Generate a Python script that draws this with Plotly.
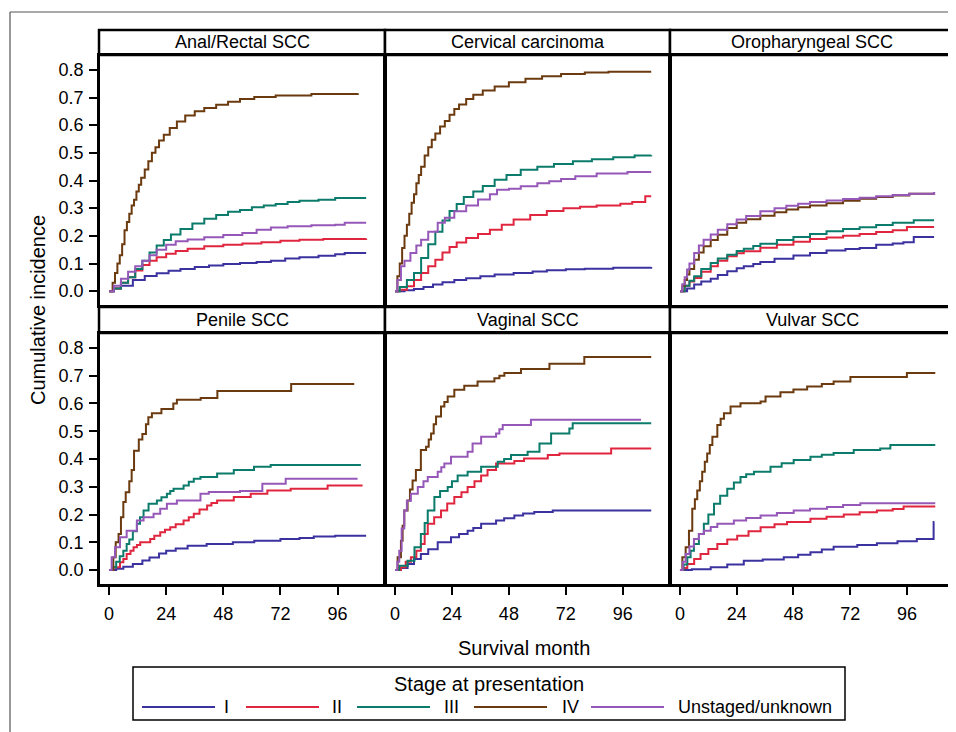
import plotly.graph_objects as go

# page body has an 8px margin: the figure is placed at (8, 8) in the window
OFF = 8
W, H = 956 - OFF, 732 - OFF

# ---------------- data ----------------
panels = ["Anal/Rectal SCC", "Cervical carcinoma", "Oropharyngeal SCC",
          "Penile SCC", "Vaginal SCC", "Vulvar SCC"]
stages = ["I", "II", "III", "IV", "Unstaged/unknown"]
stage_colors = ["#3B32A0", "#E0263F", "#0B7B6B", "#6B3A0F", "#9658B8"]
x_ticks = [0, 24, 48, 72, 96]
y_ticks = [0.0, 0.1, 0.2, 0.3, 0.4, 0.5, 0.6, 0.7, 0.8]

# Anal/Rectal SCC
anal_I_m = [0, 2, 5, 10, 15, 20, 25, 30, 36, 42, 48, 55, 62, 68, 74, 80, 88, 95, 99, 108]
anal_I_v = [0, 0.01, 0.02, 0.04, 0.055, 0.065, 0.074, 0.08, 0.087, 0.093, 0.098, 0.102, 0.105, 0.11, 0.118, 0.123, 0.128, 0.133, 0.138, 0.138]
anal_II_m = [0, 2, 5, 8, 11, 14, 17, 20, 24, 28, 33, 40, 48, 56, 64, 72, 80, 90, 108]
anal_II_v = [0, 0.01, 0.03, 0.05, 0.075, 0.095, 0.11, 0.123, 0.135, 0.145, 0.153, 0.162, 0.168, 0.172, 0.177, 0.182, 0.186, 0.189, 0.19]
anal_III_m = [0, 2, 5, 8, 11, 14, 17, 20, 23, 26, 30, 35, 40, 45, 50, 55, 60, 65, 70, 75, 80, 88, 95, 108]
anal_III_v = [0, 0.01, 0.03, 0.05, 0.08, 0.11, 0.14, 0.165, 0.185, 0.205, 0.225, 0.245, 0.262, 0.275, 0.287, 0.293, 0.303, 0.31, 0.315, 0.322, 0.327, 0.33, 0.337, 0.337]
anal_IV_m = [0, 1.5, 2.5, 3.5, 4.5, 5.5, 6.5, 7.5, 8.5, 9.5, 10.5, 11.5, 12.5, 13.5, 15, 16.5, 18, 19.5, 21, 23, 25.5, 28.5, 32, 36, 40, 45, 50, 55, 61, 70, 85, 104.5]
anal_IV_v = [0, 0.03, 0.066, 0.1, 0.13, 0.17, 0.22, 0.25, 0.28, 0.31, 0.33, 0.36, 0.385, 0.41, 0.44, 0.47, 0.5, 0.52, 0.545, 0.565, 0.59, 0.613, 0.635, 0.65, 0.662, 0.674, 0.685, 0.695, 0.702, 0.707, 0.713, 0.715]
anal_U_m = [0, 2, 5, 8, 11, 14, 17, 20, 24, 28, 33, 40, 48, 56, 62, 68, 75, 85, 95, 99, 108]
anal_U_v = [0, 0.02, 0.045, 0.07, 0.09, 0.11, 0.13, 0.15, 0.168, 0.18, 0.187, 0.195, 0.203, 0.21, 0.222, 0.23, 0.235, 0.238, 0.24, 0.247, 0.247]

# Cervical carcinoma
cerv_I_m = [0, 4, 8, 12, 16, 20, 25, 30, 36, 42, 50, 58, 64, 72, 80, 92, 108]
cerv_I_v = [0, 0.003, 0.008, 0.015, 0.024, 0.032, 0.04, 0.047, 0.054, 0.06, 0.066, 0.071, 0.076, 0.079, 0.081, 0.085, 0.087]
cerv_II_m = [0, 2, 5, 8, 11, 14, 17, 20, 23, 26, 30, 35, 40, 45, 50, 57, 64, 71, 78, 85, 95, 100, 105.5, 108]
cerv_II_v = [0, 0.005, 0.018, 0.04, 0.066, 0.09, 0.114, 0.14, 0.16, 0.176, 0.192, 0.207, 0.222, 0.24, 0.259, 0.275, 0.29, 0.3, 0.305, 0.31, 0.316, 0.322, 0.343, 0.343]
cerv_III_m = [0, 2, 5, 8, 11, 14, 17, 20, 23, 26, 29, 33, 37, 42, 47, 53, 60, 67, 75, 83, 92, 101, 108]
cerv_III_v = [0, 0.015, 0.04, 0.066, 0.12, 0.17, 0.215, 0.255, 0.29, 0.315, 0.34, 0.36, 0.38, 0.403, 0.42, 0.439, 0.45, 0.46, 0.47, 0.477, 0.484, 0.49, 0.491]
cerv_IV_m = [0, 1, 2, 3, 4, 5, 6, 7, 8, 9, 10, 11, 12.5, 14, 15.5, 17, 19, 21, 23, 25, 27, 30, 33, 37, 42, 48, 55, 62, 70, 80, 90, 108]
cerv_IV_v = [0, 0.054, 0.1, 0.156, 0.2, 0.24, 0.28, 0.32, 0.35, 0.39, 0.42, 0.45, 0.49, 0.52, 0.547, 0.57, 0.595, 0.615, 0.638, 0.658, 0.675, 0.695, 0.71, 0.725, 0.74, 0.755, 0.768, 0.777, 0.785, 0.79, 0.793, 0.793]
cerv_U_m = [0, 1, 2.5, 4, 6.5, 9, 11, 14, 18, 21, 25, 30, 35, 40, 43, 48, 53, 60, 65, 70, 76, 85, 98, 108]
cerv_U_v = [0, 0.04, 0.09, 0.11, 0.138, 0.165, 0.186, 0.215, 0.247, 0.265, 0.289, 0.31, 0.331, 0.35, 0.367, 0.37, 0.379, 0.39, 0.397, 0.405, 0.415, 0.425, 0.431, 0.431]

# Oropharyngeal SCC
oro_I_m = [0, 3, 6, 9, 13, 16, 20, 24, 27, 31, 34, 40, 48, 55, 62, 70, 76, 83, 90, 94.5, 98.9, 107.5]
oro_I_v = [0, 0.01, 0.024, 0.035, 0.045, 0.058, 0.072, 0.083, 0.09, 0.098, 0.105, 0.117, 0.129, 0.138, 0.147, 0.152, 0.156, 0.168, 0.172, 0.177, 0.196, 0.196]
oro_II_m = [0, 2, 4, 6, 9, 13, 16, 20, 24, 27, 34, 41, 48, 55, 62, 69, 76, 83, 90, 96, 107.5]
oro_II_v = [0, 0.02, 0.035, 0.048, 0.07, 0.09, 0.11, 0.126, 0.137, 0.144, 0.157, 0.168, 0.179, 0.189, 0.194, 0.2, 0.207, 0.214, 0.22, 0.232, 0.232]
oro_III_m = [0, 2, 4, 6, 9, 13, 16, 20, 24, 27, 31, 34, 41, 48, 55, 62, 69, 76, 83, 90, 98.9, 107.5]
oro_III_v = [0, 0.02, 0.038, 0.054, 0.08, 0.102, 0.118, 0.132, 0.145, 0.153, 0.163, 0.171, 0.185, 0.196, 0.207, 0.217, 0.225, 0.231, 0.239, 0.247, 0.256, 0.256]
oro_IV_m = [0, 1, 2, 3, 4, 6, 8, 10, 13, 16, 20, 24, 28, 34, 40, 45, 50, 55, 62, 69, 76, 83, 90, 97, 107.5]
oro_IV_v = [0, 0.02, 0.04, 0.06, 0.08, 0.114, 0.14, 0.162, 0.185, 0.204, 0.228, 0.247, 0.26, 0.273, 0.285, 0.295, 0.303, 0.31, 0.318, 0.327, 0.334, 0.34, 0.346, 0.352, 0.358]
oro_U_m = [0, 1, 2, 3, 4, 6, 8, 10, 13, 16, 20, 24, 28, 34, 40, 45, 50, 55, 62, 69, 76, 83, 90, 97, 107.5]
oro_U_v = [0, 0.025, 0.05, 0.078, 0.1, 0.138, 0.165, 0.186, 0.205, 0.222, 0.242, 0.259, 0.272, 0.289, 0.3, 0.309, 0.316, 0.322, 0.328, 0.333, 0.338, 0.343, 0.348, 0.352, 0.358]

# Penile SCC
pen_I_m = [0, 3, 6, 10, 14, 17, 21, 24, 28, 33, 41, 52, 61, 72, 80, 86, 95, 108]
pen_I_v = [0, 0.005, 0.012, 0.022, 0.035, 0.045, 0.06, 0.07, 0.078, 0.088, 0.094, 0.1, 0.106, 0.112, 0.116, 0.121, 0.124, 0.124]
pen_II_m = [0, 1.8, 4.6, 6, 7.4, 9, 10.3, 11.7, 13.1, 17.3, 19, 21.5, 23.5, 25.7, 28, 31.3, 33.5, 35.6, 38, 41.2, 43, 45.4, 52.4, 59.5, 66.5, 76.3, 91.8, 106.5]
pen_II_v = [0, 0.01, 0.028, 0.04, 0.058, 0.07, 0.082, 0.09, 0.1, 0.112, 0.124, 0.136, 0.145, 0.154, 0.165, 0.179, 0.19, 0.203, 0.218, 0.233, 0.242, 0.251, 0.263, 0.275, 0.287, 0.293, 0.305, 0.305]
pen_III_m = [0, 1.5, 3, 4.5, 6, 7.4, 8.5, 10, 11.7, 13, 14.5, 16.6, 20.1, 22, 24.3, 25.7, 27.1, 31.3, 33.5, 35.6, 38.4, 45.4, 52.4, 60.9, 67.9, 105.8]
pen_III_v = [0, 0.01, 0.03, 0.05, 0.07, 0.094, 0.11, 0.14, 0.167, 0.19, 0.215, 0.239, 0.251, 0.262, 0.275, 0.285, 0.293, 0.305, 0.318, 0.329, 0.335, 0.348, 0.36, 0.372, 0.378, 0.378]
pen_IV_m = [0, 1.8, 2.8, 4, 5, 6, 7, 8.5, 9.5, 10.5, 12.5, 14, 15.5, 16.5, 18, 22, 27, 28.5, 38.5, 45.5, 76.5, 103]
pen_IV_v = [0, 0.046, 0.1, 0.13, 0.19, 0.245, 0.28, 0.32, 0.36, 0.43, 0.47, 0.49, 0.525, 0.55, 0.565, 0.58, 0.6, 0.613, 0.62, 0.645, 0.67, 0.67]
pen_U_m = [0, 1.1, 2.5, 4.6, 7.4, 11.7, 14.5, 18.7, 21.5, 24.3, 28.5, 38.4, 41.9, 55, 64.4, 74.2, 104.4]
pen_U_v = [0, 0.046, 0.082, 0.118, 0.142, 0.179, 0.19, 0.203, 0.221, 0.239, 0.251, 0.275, 0.281, 0.285, 0.311, 0.329, 0.329]

# Vaginal SCC
vag_I_m = [0, 2, 5.3, 8, 10.9, 14, 18, 23.6, 27, 30.6, 33, 36.3, 42.6, 46, 50.3, 54, 58.7, 66.5, 108]
vag_I_v = [0, 0.008, 0.022, 0.04, 0.058, 0.075, 0.1, 0.118, 0.13, 0.142, 0.152, 0.167, 0.179, 0.187, 0.197, 0.204, 0.209, 0.215, 0.215]
vag_II_m = [0, 2.5, 4.5, 6.7, 9, 10.9, 12.5, 13.8, 16.5, 19.4, 22, 25, 28, 30.6, 33.5, 36.3, 39, 42.6, 50.3, 54.4, 64.4, 69.3, 91.1, 108]
vag_II_v = [0, 0.01, 0.03, 0.046, 0.07, 0.094, 0.13, 0.167, 0.19, 0.215, 0.24, 0.263, 0.28, 0.299, 0.32, 0.341, 0.36, 0.384, 0.393, 0.402, 0.414, 0.42, 0.438, 0.438]
vag_III_m = [0, 1.8, 5.3, 8.2, 10.9, 12.5, 13.8, 16.6, 19, 22.2, 24, 26.4, 30.6, 36.3, 43.3, 46, 48.9, 55.9, 60.9, 65.8, 73.5, 74.9, 108]
vag_III_v = [0, 0.016, 0.034, 0.082, 0.13, 0.17, 0.215, 0.263, 0.285, 0.299, 0.32, 0.341, 0.354, 0.372, 0.39, 0.4, 0.414, 0.426, 0.456, 0.492, 0.51, 0.529, 0.529]
vag_IV_m = [0, 1.1, 2.5, 3.2, 3.9, 5.3, 6.3, 7.4, 8.8, 10.9, 13.1, 14.2, 15.2, 16.3, 17.3, 19.4, 20.8, 22.2, 25, 29.2, 34.8, 41.9, 44, 46.1, 53.1, 65.1, 79.8, 108]
vag_IV_v = [0, 0.046, 0.106, 0.16, 0.215, 0.251, 0.29, 0.323, 0.36, 0.432, 0.444, 0.47, 0.492, 0.525, 0.553, 0.589, 0.605, 0.625, 0.649, 0.664, 0.679, 0.691, 0.7, 0.71, 0.724, 0.743, 0.767, 0.767]
vag_U_m = [0, 1, 1.8, 2.8, 3.9, 5, 6.7, 9.6, 12, 13.8, 18, 19.5, 20.8, 23.6, 30.6, 32.7, 36.3, 42.6, 44, 45.4, 57.3, 103.7]
vag_U_v = [0, 0.03, 0.07, 0.15, 0.215, 0.25, 0.275, 0.299, 0.32, 0.335, 0.354, 0.37, 0.384, 0.408, 0.426, 0.456, 0.48, 0.492, 0.507, 0.522, 0.541, 0.541]

# Vulvar SCC
vul_I_m = [0, 5, 13, 20, 27, 35, 43.9, 50, 55.2, 60, 65, 75, 83.3, 92, 100.2, 107.3, 107.6]
vul_I_v = [0, 0.003, 0.01, 0.02, 0.034, 0.038, 0.046, 0.055, 0.064, 0.074, 0.084, 0.09, 0.097, 0.104, 0.112, 0.173, 0.173]
vul_II_m = [0, 1.5, 3.1, 6, 8.7, 12, 15.8, 20, 24.2, 29, 34.1, 40, 45.3, 55.2, 62, 69.3, 76, 83.3, 90, 94.6, 108]
vul_II_v = [0, 0.008, 0.022, 0.04, 0.058, 0.076, 0.094, 0.11, 0.124, 0.14, 0.154, 0.165, 0.173, 0.185, 0.192, 0.2, 0.208, 0.215, 0.22, 0.229, 0.229]
vul_III_m = [0, 1.5, 3.1, 4.5, 5.9, 8, 10.1, 12, 14.4, 17, 20, 22.8, 25.6, 28, 31.3, 38.3, 43, 48.1, 55.2, 60, 65, 73.5, 84.7, 89, 108]
vul_III_v = [0, 0.02, 0.046, 0.07, 0.094, 0.13, 0.167, 0.2, 0.239, 0.268, 0.293, 0.315, 0.335, 0.345, 0.354, 0.372, 0.385, 0.396, 0.408, 0.415, 0.422, 0.432, 0.438, 0.45, 0.45]
vul_IV_m = [0, 1, 2.4, 3.8, 5.2, 6.3, 7.3, 8.4, 9.4, 10.5, 11.5, 12.6, 13.7, 15.8, 17.2, 18.6, 21.4, 25.6, 34.1, 36.2, 42.5, 48, 53.8, 60, 65, 72.1, 96, 108]
vul_IV_v = [0, 0.046, 0.082, 0.142, 0.221, 0.255, 0.287, 0.32, 0.354, 0.39, 0.42, 0.45, 0.48, 0.522, 0.545, 0.565, 0.589, 0.601, 0.607, 0.625, 0.64, 0.65, 0.661, 0.67, 0.679, 0.695, 0.71, 0.71]
vul_U_m = [0, 1.2, 2.4, 4, 5.9, 8, 10.1, 13, 15.8, 22.8, 28, 34.1, 41, 48.1, 55, 62.2, 69, 76.3, 108]
vul_U_v = [0, 0.03, 0.058, 0.085, 0.112, 0.13, 0.142, 0.155, 0.167, 0.179, 0.188, 0.197, 0.206, 0.215, 0.221, 0.227, 0.234, 0.241, 0.241]

series = [
    [(anal_I_m, anal_I_v), (anal_II_m, anal_II_v), (anal_III_m, anal_III_v), (anal_IV_m, anal_IV_v), (anal_U_m, anal_U_v)],
    [(cerv_I_m, cerv_I_v), (cerv_II_m, cerv_II_v), (cerv_III_m, cerv_III_v), (cerv_IV_m, cerv_IV_v), (cerv_U_m, cerv_U_v)],
    [(oro_I_m, oro_I_v), (oro_II_m, oro_II_v), (oro_III_m, oro_III_v), (oro_IV_m, oro_IV_v), (oro_U_m, oro_U_v)],
    [(pen_I_m, pen_I_v), (pen_II_m, pen_II_v), (pen_III_m, pen_III_v), (pen_IV_m, pen_IV_v), (pen_U_m, pen_U_v)],
    [(vag_I_m, vag_I_v), (vag_II_m, vag_II_v), (vag_III_m, vag_III_v), (vag_IV_m, vag_IV_v), (vag_U_m, vag_U_v)],
    [(vul_I_m, vul_I_v), (vul_II_m, vul_II_v), (vul_III_m, vul_III_v), (vul_IV_m, vul_IV_v), (vul_U_m, vul_U_v)],
]

# ---------------- layout geometry (window pixels) ----------------
FONT = "Liberation Sans, Arial, sans-serif"
col_px = [(100, 384), (386, 669), (671, 953)]
row_plot_px = [(56, 305), (334, 584)]
row_strip_px = [(30, 55), (307, 333)]


def px_x(p):
    return (p - OFF) / W


def px_y(p):
    return 1 - (p - OFF) / H


fig = go.Figure()
layout = dict(
    width=W, height=H, margin=dict(l=0, r=0, t=0, b=0),
    paper_bgcolor="white", plot_bgcolor="white", showlegend=False,
    font=dict(family=FONT, color="black"),
)

shapes = []
annotations = []

for k in range(6):
    r, c = divmod(k, 3)
    ax = k + 1
    xa = "xaxis" if ax == 1 else f"xaxis{ax}"
    ya = "yaxis" if ax == 1 else f"yaxis{ax}"
    xref = "x" if ax == 1 else f"x{ax}"
    yref = "y" if ax == 1 else f"y{ax}"
    for s in range(5):
        m, v = series[k][s]
        fig.add_trace(go.Scatter(
            x=m, y=v, mode="lines", line=dict(color=stage_colors[s], width=2, shape="hv"),
            name=stages[s], xaxis=xref, yaxis=yref, hoverinfo="skip"))
    x0, x1 = col_px[c]
    y0, y1 = row_plot_px[r]
    layout[xa] = dict(
        domain=[px_x(x0), px_x(x1)], anchor=yref, range=[-3.8, 115.5],
        showgrid=False, zeroline=False, showline=True, mirror=True,
        linecolor="black", linewidth=2.5,
        tickvals=x_ticks, ticks="outside" if r == 1 else "", ticklen=8,
        tickwidth=1.5, tickcolor="black", showticklabels=(r == 1),
        ticklabelstandoff=4,
        tickfont=dict(size=18, family=FONT, color="black"),
    )
    layout[ya] = dict(
        domain=[px_y(y1), px_y(y0)], anchor=xref, range=[-0.05, 0.85],
        showgrid=False, zeroline=False, showline=True, mirror=True,
        linecolor="black", linewidth=2.5,
        tickvals=y_ticks, tickformat=".1f", ticks="outside" if c == 0 else "",
        ticklen=8, tickwidth=1.5, tickcolor="black", showticklabels=(c == 0),
        ticklabelstandoff=2,
        tickfont=dict(size=18, family=FONT, color="black"),
    )
    # strip header
    sy0, sy1 = row_strip_px[r]
    shapes.append(dict(type="rect", xref="paper", yref="paper",
                       x0=px_x(x0 - 1), x1=px_x(x1 + 1), y0=px_y(sy1), y1=px_y(sy0),
                       line=dict(color="black", width=2.5), fillcolor="white", layer="below"))
    annotations.append(dict(text=panels[k], xref="paper", yref="paper",
                            x=px_x((x0 + x1) / 2), y=px_y((sy0 + sy1) / 2),
                            showarrow=False, xanchor="center", yanchor="middle",
                            font=dict(size=18, family=FONT, color="black")))

# outer frame (top and left edges)
shapes.append(dict(type="line", xref="paper", yref="paper", x0=px_x(10), x1=1.0,
                   y0=px_y(12), y1=px_y(12), line=dict(color="#555555", width=1.2)))
shapes.append(dict(type="line", xref="paper", yref="paper", x0=px_x(10), x1=px_x(10),
                   y0=px_y(12), y1=0.0, line=dict(color="#555555", width=1.2)))

# axis titles
annotations.append(dict(text="Cumulative incidence", xref="paper", yref="paper",
                        x=px_x(38), y=px_y(310), textangle=-90, showarrow=False,
                        xanchor="center", yanchor="middle",
                        font=dict(size=20, family=FONT, color="black")))
annotations.append(dict(text="Survival month", xref="paper", yref="paper",
                        x=px_x(524), y=px_y(648), showarrow=False,
                        xanchor="center", yanchor="middle",
                        font=dict(size=20, family=FONT, color="black")))

# legend box (manual)
shapes.append(dict(type="rect", xref="paper", yref="paper", x0=px_x(133), x1=px_x(845),
                   y0=px_y(720), y1=px_y(667), line=dict(color="black", width=1.5)))
annotations.append(dict(text="Stage at presentation", xref="paper", yref="paper",
                        x=px_x(489), y=px_y(684), showarrow=False,
                        xanchor="center", yanchor="middle",
                        font=dict(size=20, family=FONT, color="black")))
leg_line_x = [142, 246, 357, 474, 591]
leg_text_x = [222, 330, 442, 560, 676]
for s in range(5):
    shapes.append(dict(type="line", xref="paper", yref="paper",
                       x0=px_x(leg_line_x[s]), x1=px_x(leg_line_x[s] + 73),
                       y0=px_y(707), y1=px_y(707),
                       line=dict(color=stage_colors[s], width=2)))
    annotations.append(dict(text=stages[s], xref="paper", yref="paper",
                            x=px_x(leg_text_x[s]), y=px_y(707), showarrow=False,
                            xanchor="left", yanchor="middle",
                            font=dict(size=18, family=FONT, color="black")))

layout["shapes"] = shapes
layout["annotations"] = annotations
fig.update_layout(**layout)
fig.write_html("out.html")
